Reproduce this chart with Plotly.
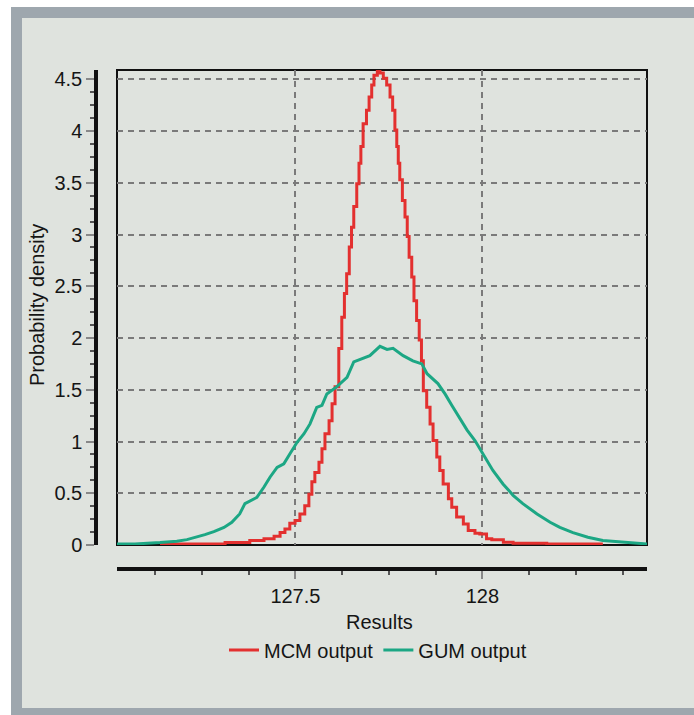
import plotly.graph_objects as go

W, H = 694, 715

# MCM output (red)
mcm_x = [127.138, 127.312, 127.378, 127.416, 127.443, 127.459, 127.472, 127.485, 127.499,
         127.512, 127.525, 127.536, 127.544, 127.552, 127.563, 127.571, 127.579, 127.590,
         127.598, 127.606, 127.616, 127.624, 127.631, 127.637, 127.644, 127.650, 127.656,
         127.664, 127.670, 127.675, 127.681, 127.690, 127.697, 127.704, 127.710, 127.719,
         127.726, 127.735, 127.744, 127.753, 127.760, 127.766, 127.771, 127.775, 127.779,
         127.786, 127.793, 127.799, 127.804, 127.811, 127.817, 127.824, 127.831, 127.837,
         127.842, 127.851, 127.860, 127.868, 127.878, 127.886, 127.895, 127.909, 127.918,
         127.931, 127.949, 127.962, 127.980, 127.993, 128.011, 128.025, 128.056, 128.082,
         128.172, 128.322]
mcm_y = [0.01, 0.01, 0.023, 0.043, 0.06, 0.085, 0.12, 0.155, 0.21,
         0.236, 0.30, 0.38, 0.49, 0.61, 0.70, 0.80, 0.93, 1.075,
         1.20, 1.365, 1.53, 1.90, 2.20, 2.43, 2.62, 2.88, 3.07,
         3.27, 3.49, 3.69, 3.85, 4.07, 4.20, 4.33, 4.445, 4.54,
         4.58, 4.56, 4.51, 4.445, 4.33, 4.20, 4.01, 3.85, 3.69,
         3.53, 3.33, 3.17, 2.98, 2.78, 2.59, 2.36, 2.17, 1.98,
         1.78, 1.49, 1.33, 1.17, 1.01, 0.85, 0.72, 0.59, 0.446,
         0.365, 0.27, 0.204, 0.14, 0.113, 0.107, 0.06, 0.05, 0.026,
         0.017, 0.01]

# GUM output (green)
gum_x = [127.023, 127.071, 127.138, 127.183, 127.210, 127.237, 127.258, 127.282, 127.309,
         127.330, 127.351, 127.365, 127.397, 127.416, 127.432, 127.451, 127.469, 127.485,
         127.504, 127.523, 127.539, 127.557, 127.571, 127.584, 127.611, 127.638, 127.656,
         127.699, 127.726, 127.745, 127.761, 127.788, 127.814, 127.838, 127.852, 127.881,
         127.900, 127.918, 127.940, 127.959, 127.980, 128.001, 128.028, 128.055, 128.082,
         128.108, 128.146, 128.181, 128.207, 128.242, 128.282, 128.322, 128.386, 128.440]
gum_y = [0.01, 0.01, 0.023, 0.036, 0.052, 0.075, 0.10, 0.13, 0.17,
         0.22, 0.30, 0.40, 0.46, 0.56, 0.655, 0.75, 0.785, 0.88,
         0.99, 1.075, 1.17, 1.33, 1.35, 1.46, 1.53, 1.62, 1.77,
         1.83, 1.92, 1.89, 1.90, 1.83, 1.78, 1.75, 1.655, 1.56,
         1.46, 1.35, 1.22, 1.11, 1.01, 0.88, 0.72, 0.59, 0.48,
         0.40, 0.30, 0.22, 0.17, 0.12, 0.075, 0.043, 0.026, 0.01]

series_names = ["MCM output", "GUM output"]
x_title = "Results"
y_title = "Probability density"

x_range = [127.023, 128.44]
y_range = [0, 4.59]

RED = "#e3302f"
GREEN = "#1ca784"
PANEL = "#dfe3de"
BORDER = "#9ea7ae"
FONT = "Liberation Sans, Arial, sans-serif"
TXT = "#151515"

# plot area in pixels
L, R, T, B = 117, 647, 70, 545
xd = [L / W, R / W]
yd = [(H - B) / H, (H - T) / H]

fig = go.Figure()
fig.add_trace(go.Scatter(x=mcm_x, y=mcm_y, mode="lines", name=series_names[0],
                         line=dict(color=RED, width=3, shape="vh")))
fig.add_trace(go.Scatter(x=gum_x, y=gum_y, mode="lines", name=series_names[1],
                         line=dict(color=GREEN, width=3)))

shapes = [
    dict(type="rect", xref="paper", yref="paper", x0=11 / W, x1=1.02, y0=-0.01, y1=(H - 7) / H,
         fillcolor=BORDER, line=dict(width=0), layer="below"),
    dict(type="rect", xref="paper", yref="paper", x0=22 / W, x1=1.02, y0=(H - 708) / H, y1=(H - 18) / H,
         fillcolor=PANEL, line=dict(width=0), layer="below"),
    dict(type="rect", xref="paper", yref="paper", x0=xd[0], x1=xd[1], y0=yd[0], y1=yd[1],
         fillcolor="rgba(0,0,0,0)", line=dict(color="#111111", width=2), layer="between"),
]

fig.update_layout(
    width=W, height=H,
    margin=dict(l=0, r=0, t=0, b=0, autoexpand=False),
    paper_bgcolor="white",
    plot_bgcolor=PANEL,
    font=dict(family=FONT, size=20, color=TXT),
    shapes=shapes,
    showlegend=True,
    legend=dict(orientation="h", x=378 / W, xanchor="center", y=(H - 650) / H, yanchor="middle",
                bgcolor="rgba(0,0,0,0)", font=dict(size=20, family=FONT, color=TXT)),
    xaxis=dict(domain=xd, range=x_range, anchor="free", position=(H - 569) / H, automargin=False,
               showline=True, linecolor="#111111", linewidth=3.5,
               dtick=0.5, tick0=127.5, ticks="outside", ticklen=8, tickcolor="#888888", tickwidth=1.5,
               showgrid=True, gridcolor="#7a7a7a", gridwidth=1.6, griddash="6px,5px",
               zeroline=False,
               minor=dict(dtick=0.125, ticks="outside", ticklen=4, tickcolor="#555555", tickwidth=1.5,
                          showgrid=False),
               tickfont=dict(size=20)),
    yaxis=dict(domain=yd, range=y_range, anchor="free", position=96 / W, automargin=False,
               showline=True, linecolor="#111111", linewidth=3.5,
               dtick=0.5, tick0=0, ticks="outside", ticklen=8, tickcolor="#888888", tickwidth=1.5,
               showgrid=True, gridcolor="#7a7a7a", gridwidth=1.6, griddash="6px,5px",
               zeroline=False,
               minor=dict(dtick=0.125, ticks="outside", ticklen=4, tickcolor="#555555", tickwidth=1.5,
                          showgrid=False),
               tickfont=dict(size=20)),
    annotations=[
        dict(text=x_title, xref="paper", yref="paper", x=380 / W, y=(H - 622) / H,
             xanchor="center", yanchor="middle", showarrow=False, font=dict(size=20)),
        dict(text=y_title, xref="paper", yref="paper", x=37 / W, y=(H - 305) / H,
             xanchor="center", yanchor="middle", showarrow=False, textangle=-90,
             font=dict(size=20)),
    ],
)

fix_page = (
    "var s=document.createElement('style');"
    "s.textContent='html,body{margin:0;padding:0;overflow:hidden;width:694px;height:715px;}';"
    "document.head.appendChild(s);"
)
fig.write_html("out.html", config={"displayModeBar": False}, post_script=fix_page)
